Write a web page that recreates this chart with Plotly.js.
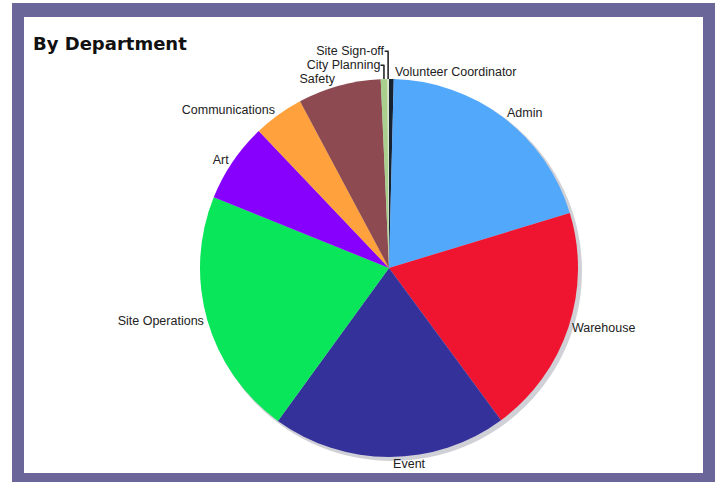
<!DOCTYPE html>
<html>
<head>
<meta charset="utf-8">
<script src="https://cdn.plot.ly/plotly-3.0.1.min.js"></script>
<style>
html,body{margin:0;padding:0;background:#fff;}
#chart{width:719px;height:482px;}
</style>
</head>
<body>
<div id="chart"></div>
<script>
const departments = ["Volunteer Coordinator", "Admin", "Warehouse", "Event", "Site Operations", "Art", "Communications", "Safety", "City Planning", "Site Sign-off"];
const shares = [0.4, 19.9, 19.6, 20.1, 21.1, 6.8, 4.3, 7.1, 0.55, 0.15];
const sliceColors = ["#182331", "#52a8fb", "#ef1530", "#35319b", "#09e65a", "#8700fd", "#ffa13d", "#8d4a50", "#a9cf8f", "#d9e8c8"];

const W = 719, H = 482;
const cx = 389, cy = 268, r = 189;

const trace = {
  type: "pie",
  labels: departments,
  values: shares,
  sort: false,
  direction: "clockwise",
  rotation: 0,
  marker: {colors: sliceColors, line: {width: 0}},
  textinfo: "label",
  textposition: "outside",
  outsidetextfont: {family: "Liberation Sans, Arial, sans-serif", size: 12.5, color: "#222"},
  showlegend: false,
  hoverinfo: "label+percent",
  domain: {x: [(cx - r) / W, (cx + r) / W], y: [(H - cy - r) / H, (H - cy + r) / H]}
};

const layout = {
  width: W, height: H,
  margin: {l: 0, r: 0, t: 0, b: 0},
  paper_bgcolor: "#ffffff",
  showlegend: false,
  title: {
    text: "<b>By Department</b>",
    x: 33 / W, xref: "paper", xanchor: "left",
    y: 1 - 44 / H, yref: "paper", yanchor: "middle",
    font: {family: "DejaVu Sans, Arial, sans-serif", size: 18, color: "#111"}
  },
  shapes: [
    {type: "rect", xref: "paper", yref: "paper", layer: "below",
     x0: 12 / W, x1: 715 / W, y0: 0, y1: 1 - 3 / H,
     fillcolor: "#6a6699", line: {width: 0}},
    {type: "rect", xref: "paper", yref: "paper", layer: "below",
     x0: 24 / W, x1: 703 / W, y0: 1 - 473 / H, y1: 1 - 17 / H,
     fillcolor: "#ffffff", line: {width: 0}},
    {type: "circle", xref: "paper", yref: "paper", layer: "below",
     x0: (cx - r + 2) / W, x1: (cx + r + 4) / W, y0: (H - cy - r - 4) / H, y1: (H - cy + r - 2) / H,
     fillcolor: "rgba(120,120,140,0.35)", line: {width: 0}}
  ]
};

Plotly.newPlot("chart", [trace], layout, {displayModeBar: false, staticPlot: true});
</script>
</body>
</html>
